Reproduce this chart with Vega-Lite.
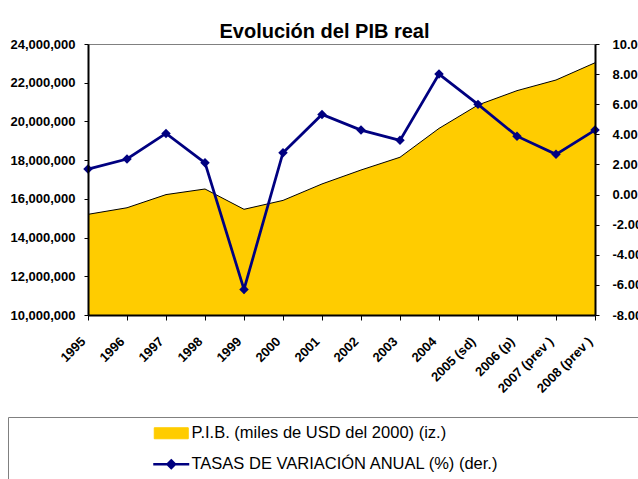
{
  "$schema": "https://vega.github.io/schema/vega-lite/v6.json",
  "width": 507,
  "height": 271,
  "autosize": {"type": "none"},
  "padding": {"left": 88, "top": 44, "right": 43, "bottom": 164},
  "background": "white",
  "title": {
    "text": "Evolución del PIB real",
    "font": "Liberation Sans",
    "fontSize": 20,
    "fontWeight": "bold",
    "color": "black",
    "anchor": "middle",
    "baseline": "alphabetic",
    "offset": 9,
    "dx": -17,
    "dy": 29
  },
  "data": {
    "values": [
      {"year": "1995", "pib": 15200000, "tasa": 1.69},
      {"year": "1996", "pib": 15540000, "tasa": 2.36},
      {"year": "1997", "pib": 16220000, "tasa": 4.06},
      {"year": "1998", "pib": 16510000, "tasa": 2.11},
      {"year": "1999", "pib": 15460000, "tasa": -6.3},
      {"year": "2000", "pib": 15920000, "tasa": 2.78},
      {"year": "2001", "pib": 16770000, "tasa": 5.32},
      {"year": "2002", "pib": 17490000, "tasa": 4.28},
      {"year": "2003", "pib": 18150000, "tasa": 3.6},
      {"year": "2004", "pib": 19640000, "tasa": 8.0},
      {"year": "2005 (sd)", "pib": 20850000, "tasa": 5.99},
      {"year": "2006 (p)", "pib": 21590000, "tasa": 3.88},
      {"year": "2007 (prev )", "pib": 22140000, "tasa": 2.67},
      {"year": "2008 (prev )", "pib": 23030000, "tasa": 4.28}
    ]
  },
  "encoding": {
    "x": {
      "field": "year",
      "type": "ordinal",
      "sort": null,
      "scale": {"type": "point", "padding": 0},
      "axis": {
        "title": null,
        "labelAngle": -45,
        "labelAlign": "right",
        "labelBaseline": "middle",
        "labelPadding": 19,
        "labelOffset": -5,
        "labelOverlap": false,
        "tickSize": 5,
        "tickColor": "black",
        "domainColor": "black",
        "domainWidth": 2,
        "labelFont": "Liberation Sans",
        "labelFontSize": 13,
        "labelFontWeight": "bold",
        "labelColor": "black",
        "grid": false,
        "zindex": 1
      }
    }
  },
  "layer": [
    {
      "mark": {"type": "area", "fill": "#FFCC00", "opacity": 1, "line": {"color": "black", "strokeWidth": 1}},
      "encoding": {
        "y": {
          "field": "pib",
          "type": "quantitative",
          "scale": {"domain": [10000000, 24000000], "nice": false, "zero": false},
          "axis": {
            "orient": "left",
            "title": null,
            "values": [10000000, 12000000, 14000000, 16000000, 18000000, 20000000, 22000000, 24000000],
            "format": ",d",
            "grid": false,
            "tickSize": 4,
            "tickColor": "black",
            "labelPadding": 9,
            "domainColor": "black",
            "domainWidth": 2,
            "labelFont": "Liberation Sans",
            "labelFontSize": 13,
            "labelFontWeight": "bold",
            "labelColor": "black",
            "zindex": 1
          }
        },
        "y2": {"datum": 10000000}
      }
    },
    {
      "layer": [
        {
          "mark": {"type": "line", "color": "#000080", "strokeWidth": 2.75},
          "encoding": {
            "y": {"field": "tasa", "type": "quantitative"},
            "color": {
              "datum": "TASAS DE VARIACIÓN ANUAL (%) (der.)",
              "type": "nominal",
              "scale": {
                "domain": ["P.I.B. (miles de USD del 2000) (iz.)", "TASAS DE VARIACIÓN ANUAL (%) (der.)"],
                "range": ["#FFCC00", "#000080"]
              },
              "legend": {
                "orient": "none",
                "legendX": -80,
                "legendY": 373,
                "title": null,
                "direction": "vertical",
                "strokeColor": "#808080",
                "fillColor": "white",
                "padding": 8,
                "symbolOffset": 147,
                "symbolSize": 100,
                "labelOffset": 12,
                "rowPadding": 13,
                "labelFont": "Liberation Sans",
                "labelFontSize": 16.5,
                "labelColor": "black",
                "labelLimit": 0,
                "encode": {
                  "symbols": {
                    "update": {
                      "shape": {"signal": "datum.value === 'P.I.B. (miles de USD del 2000) (iz.)' ? 'M-3.4,-1.1H3.4V1.1H-3.4ZM94,0' : 'M-3.6,0H3.6M0,-0.75L0.75,0L0,0.75L-0.75,0Z'"},
                      "fill": {"signal": "datum.value === 'P.I.B. (miles de USD del 2000) (iz.)' ? '#FFCC00' : '#000080'"},
                      "stroke": {"signal": "datum.value === 'P.I.B. (miles de USD del 2000) (iz.)' ? '#000000' : '#000080'"},
                      "strokeWidth": {"signal": "datum.value === 'P.I.B. (miles de USD del 2000) (iz.)' ? 1 : 2.5"},
                      "opacity": {"value": 1},
                      "fillOpacity": {"value": 1},
                      "strokeOpacity": {"value": 1}
                    }
                  }
                }
              }
            }
          }
        },
        {
          "mark": {"type": "point", "shape": "diamond", "filled": true, "size": 90, "color": "#000080", "opacity": 1},
          "encoding": {
            "y": {"field": "tasa", "type": "quantitative"}
          }
        }
      ],
      "encoding": {
        "y": {
          "field": "tasa",
          "type": "quantitative",
          "scale": {"domain": [-8, 10], "nice": false, "zero": false},
          "axis": {
            "orient": "right",
            "title": null,
            "values": [-8, -6, -4, -2, 0, 2, 4, 6, 8, 10],
            "format": ".2f",
            "labelExpr": "replace(datum.label, '\u2212', '-')",
            "grid": false,
            "tickSize": 4,
            "tickColor": "black",
            "labelPadding": 13,
            "domainColor": "black",
            "domainWidth": 2,
            "labelFont": "Liberation Sans",
            "labelFontSize": 13,
            "labelFontWeight": "bold",
            "labelColor": "black",
            "zindex": 1
          }
        }
      }
    }
  ],
  "resolve": {"scale": {"y": "independent"}},
  "config": {
    "view": {"stroke": "#808080", "strokeWidth": 1}
  }
}
